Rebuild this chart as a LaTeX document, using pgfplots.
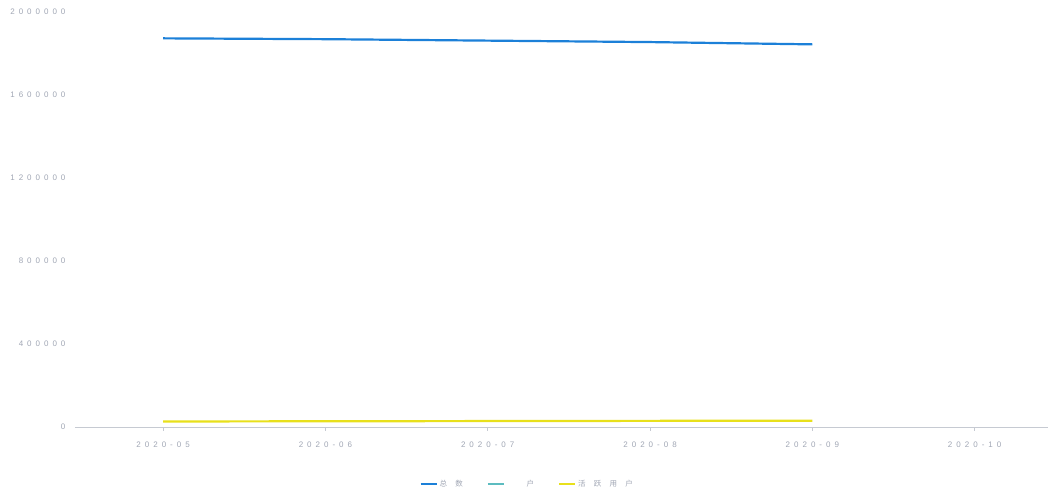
\documentclass[border=0pt]{standalone}
\usepackage{fontspec}
\setmainfont{Liberation Sans}
\newfontfamily\ticks[LetterSpace=50]{Liberation Sans}
\newfontfamily\cjk[LetterSpace=110]{Noto Sans CJK SC}
\usepackage{pgfplots}
\pgfplotsset{compat=1.18}
\definecolor{lineblue}{HTML}{1C80D8}
\definecolor{linecyan}{HTML}{5CBCC0}
\definecolor{lineyellow}{HTML}{E8E01C}
\definecolor{labgray}{HTML}{A0A6B4}

\begin{document}
\begin{tikzpicture}[x=1pt,y=1pt]
    \begin{axis}[
        scale only axis,
        width=973pt,
        height=415pt,
        at={(0pt,0pt)},
        anchor=south west,
        xmin=-0.543, xmax=5.45,
        ymin=0, ymax=2000000,
        xtick={0,1,2,3,4,5},
        xticklabels={2020-05,2020-06,2020-07,2020-08,2020-09,2020-10},
        ytick={0,400000,800000,1200000,1600000,2000000},
        scaled y ticks=false,
        /pgf/number format/assume math mode=true,
        yticklabel={\pgfmathprintnumber[fixed,1000 sep={}]{\tick}},
        axis x line*=bottom,
        axis y line*=left,
        y axis line style={draw=none},
        ytick style={draw=none},
        x axis line style={draw=labgray!60, line width=0.6pt, -},
        xtick style={draw=labgray!60, line width=0.6pt},
        tick align=outside,
        major tick length=4pt,
        ticklabel style={font=\ticks\fontsize{8}{8}\selectfont, text=labgray},
        xticklabel style={yshift=-8pt},
        yticklabel style={xshift=-2pt},
        legend columns=3,
        legend style={at={(0.465,-0.137)}, anchor=center, draw=none,
            font=\cjk\fontsize{7.5}{8}\selectfont, text=labgray,
            /tikz/every even column/.append style={column sep=22pt}},
        legend image code/.code={\draw[#1, line width=2pt] (0pt,0pt) -- (16pt,0pt);},
        ]
        \addplot [lineblue, line width=2.2pt] coordinates {
            (0,1873000) (1,1869000) (2,1862000) (3,1855000) (4,1844000)
        };
        \addlegendentry{总数}
        \addlegendimage{linecyan}
        \addlegendentry{\ \ 户}
        \addplot [lineyellow, line width=2.2pt] coordinates {
            (0,26000) (1,27000) (2,28000) (3,29000) (4,30000)
        };
        \addlegendentry{活跃用户}
    \end{axis}
    \path[use as bounding box] (-75pt,-66pt) rectangle (973pt,427pt);
\end{tikzpicture}
\end{document}
